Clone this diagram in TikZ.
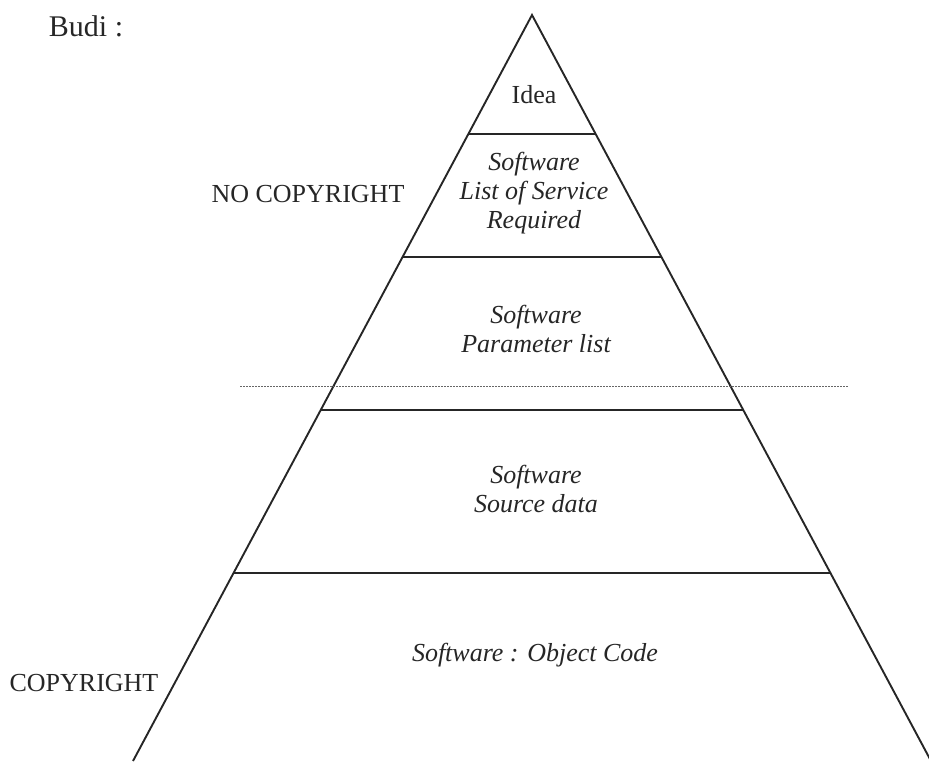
\documentclass[tikz,border=0pt]{standalone}
\usepackage{fontspec}
\setmainfont{Liberation Serif}
\usetikzlibrary{calc}
\begin{document}
\begin{tikzpicture}[x=1pt,y=-1pt,
  edge/.style={line width=1.9pt, draw=black!85},
  sep/.style={line width=1.7pt, draw=black!85},
  dotline/.style={line width=1pt, draw=black!60, dash pattern=on 1.6pt off 1.4pt},
  lbl/.style={inner sep=0pt, text=black!85, font=\fontsize{26}{29}\selectfont, align=center},
  ital/.style={lbl, font=\fontsize{26}{29}\selectfont\itshape}]
\useasboundingbox (0,0) rectangle (929,761);
\coordinate (apex) at (532,15);
\coordinate (bl) at (133,761);
\coordinate (br) at (931,761);
\draw[edge] (bl) -- (apex) -- (br);
\foreach \t in {0.1595,0.3244,0.5295,0.748}{
  \draw[sep] ($(apex)!\t!(bl)$) -- ($(apex)!\t!(br)$);
}
\coordinate (dl) at (240,386);
\coordinate (dr) at (848,386);
\draw[dotline] (dl) -- (dr);
\node[lbl, font=\fontsize{30}{34}\selectfont] (budi) at (86,26) {Budi :};
\node[lbl] (idea) at (534,95) {Idea};
\node[ital] (lsr) at (534,193) {Software\\List of Service\\Required};
\node[ital] (par) at (536,329) {Software\\Parameter list};
\node[ital] (src) at (536,489) {Software\\Source data};
\node[ital] (obj) at (535,655) {Software : Object Code};
\node[lbl] (nocopy) at (308,194) {NO COPYRIGHT};
\node[lbl] (copy) at (84,683) {COPYRIGHT};
\end{tikzpicture}
\end{document}
